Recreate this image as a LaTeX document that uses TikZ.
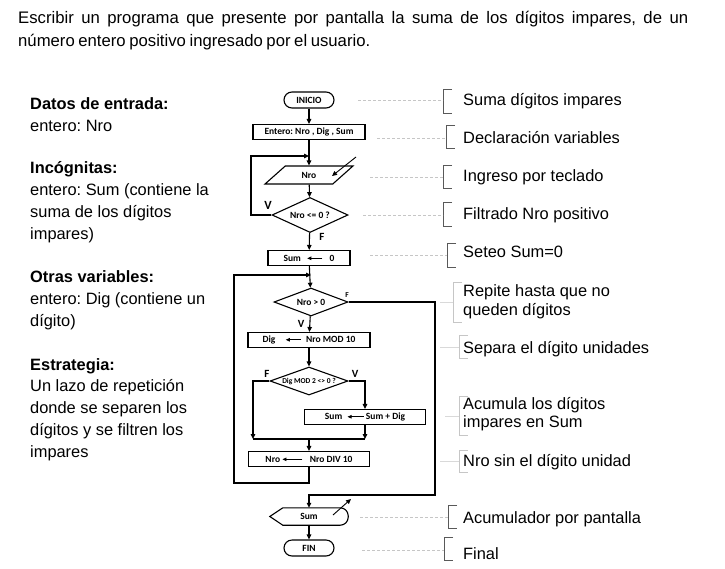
\documentclass[tikz,border=0pt]{standalone}
\usepackage{fontspec}
\setmainfont{Liberation Sans}
\newfontfamily\fluxfont{Carlito}
\usetikzlibrary{shapes.geometric,arrows.meta}
\frenchspacing

% flecha de asignacion dentro de las cajas
\newcommand{\asig}[1]{\tikz[baseline=-0.6ex]\draw[line width=0.7pt,-{Triangle[length=4pt,width=3.5pt]}] (#1,0) -- (0,0);}
% corchete de las notas
\newcommand{\corchete}[4][corch]{\draw[#1] (#2+9,#3) -- (#2,#3) -- (#2,#4) -- (#2+9,#4);}

\begin{document}
\begin{tikzpicture}[x=1pt,y=-1pt,
  flujo/.style={line width=1.1pt},
  flecha/.style={flujo,-{Triangle[length=5pt,width=4.5pt]}},
  caja/.style={draw,line width=1.1pt,inner sep=0pt,font=\fluxfont\bfseries\fontsize{9.5}{10}\selectfont},
  terminal/.style={caja,rounded corners=8pt,minimum width=50pt,minimum height=16pt},
  proceso/.style={caja,minimum height=15pt},
  entrada/.style={caja,trapezium,trapezium left angle=45,trapezium right angle=135,trapezium stretches=true,minimum width=88pt,minimum height=18pt},
  decision/.style={caja,diamond},
  etiq/.style={font=\fluxfont\bfseries\fontsize{11}{12}\selectfont,inner sep=0pt},
  nota/.style={anchor=base west,inner sep=0pt,align=left,font=\fontsize{16.4}{18.5}\selectfont},
  texto/.style={anchor=base west,inner sep=0pt,align=left,font=\fontsize{16.4}{21.7}\selectfont},
  guia/.style={gray!45,dash pattern=on 3pt off 2pt,line width=0.5pt},
  guia2/.style={gray!30,line width=0.5pt}
]
\useasboundingbox (0,0) rectangle (725,568);
\tikzset{corch/.style={gray!70!black,line width=0.9pt},
  corch2/.style={gray!45,line width=0.7pt}}

% enunciado
\node[anchor=base west,inner sep=0pt,text width=670pt,align=justify,
  font=\fontsize{16.7}{22.5}\selectfont] (enunciado) at (18,23.5)
  {\spaceskip=3.6pt plus 6pt minus 1pt\relax
   Escribir un programa que presente por pantalla la suma de los dígitos impares, de un\linebreak
   número entero positivo ingresado por el usuario.};

% datos del problema
\node[texto] (datos) at (30,131) {\textbf{Datos de entrada:}\\entero: Nro};
\node[texto] (incog) at (30,239) {\textbf{Incógnitas:}\\entero: Sum (contiene la\\suma de los dígitos\\impares)};
\node[texto] (otras) at (30,326) {\textbf{Otras variables:}\\entero: Dig (contiene un\\dígito)};
\node[texto] (estrat) at (30,457) {\textbf{Estrategia:}\\Un lazo de repetición\\donde se separen los\\dígitos y se filtren los\\impares};

% diagrama de flujo
\node[terminal] (inicio) at (309,100) {INICIO};
\node[proceso,minimum width=112pt] (decl) at (309,132) {Entero: Nro , Dig , Sum};
\node[entrada] (leer) at (309,175) {Nro};
\node[decision,minimum width=76pt,minimum height=35pt] (filtro) at (310,215) {\makebox[0pt]{Nro <= 0 ?}};
\node[proceso,minimum width=82pt] (cero) at (309,258) {Sum\hspace{6pt}\asig{15pt}\hspace{7pt}0};
\node[decision,minimum width=74pt,minimum height=28pt] (mientras) at (311,302) {\makebox[0pt]{Nro > 0}};
\node[proceso,minimum width=122pt] (resto) at (309,340) {Dig\hspace{10pt}\asig{15pt}\hspace{5pt}Nro MOD 10};
\node[decision,minimum width=78pt,minimum height=28pt] (impar) at (309,381)
  {\makebox[0pt]{\fontsize{7.5}{8}\selectfont Dig MOD 2 <> 0 ?}};
\node[proceso,minimum width=121pt] (acum) at (365,417) {Sum\hspace{5pt}\asig{16pt}\hspace{2pt}Sum + Dig};
\node[proceso,minimum width=121pt] (cociente) at (309,459) {Nro\hspace{2pt}\asig{20pt}\hspace{7pt}Nro DIV 10};
\node[minimum width=78pt,minimum height=17pt,inner sep=0pt,font=\fluxfont\bfseries\fontsize{9.5}{10}\selectfont] (mostrar) at (309,516.5) {Sum};
\node[terminal] (fin) at (309,548) {FIN};

% forma de salida por pantalla
\draw[flujo] (mostrar.west) -- ([xshift=13pt]mostrar.north west) [rounded corners=8pt] -- (mostrar.north east)
  -- (mostrar.south east) [sharp corners] -- ([xshift=13pt]mostrar.south west) -- cycle;
\draw[flecha,line width=0.9pt] (333,515) -- (351,499);
% flecha de teclado
\draw[flecha,line width=0.9pt] (356,157) -- (332,176);

% conexiones
\draw[flecha] (inicio) -- (decl);
\draw[flecha] (decl) -- (leer);
\draw[flecha] (leer) -- (filtro);
\draw[flecha] (filtro) -- (cero);
\node[etiq] (f1) at (322,237) {F};
\node[etiq,font=\fluxfont\bfseries\fontsize{12.5}{13}\selectfont] (v1) at (268,205) {V};
\coordinate (l1) at (251,215);
\coordinate (l2) at (251,156);
\draw[flecha] (filtro.west) -- (l1) -- (l2) -- (l2 -| decl);

\draw[flecha] (cero) -- (mientras);
\draw[flecha] (mientras) -- (resto);
\node[etiq] (v2) at (301,324) {V};
\node[etiq,font=\fluxfont\bfseries\fontsize{7.5}{8}\selectfont] (f2) at (347,295) {F};
\coordinate (r1) at (234,483);
\coordinate (r2) at (234,275);
\draw[flecha] (cociente.south) |- (r1) -- (r2) -- (r2 -| mientras);
\coordinate (s1) at (435,495);
\draw[flecha] (mientras.east) -| (s1) -- (s1 -| mostrar) -- (mostrar.north);

\draw[flecha] (resto) -- (impar);
\node[etiq] (f3) at (267,374) {F};
\node[etiq] (v3) at (355,374) {V};
\coordinate (m1) at (253,439);
\coordinate (m2) at (365,439);
\draw[flecha] (impar.west) -| (m1);
\draw[flecha] (impar.east) -| (acum.north);
\draw[flecha] (acum.south) -- (m2);
\draw[flujo] (m1) -- (m2);
\draw[flecha] (m1 -| cociente) -- (cociente.north);
\draw[flecha] (mostrar.south) -- (fin);

% notas
\node[nota] (n1) at (463,105) {Suma dígitos impares};
\node[nota] (n2) at (463,143) {Declaración variables};
\node[nota] (n3) at (463,181) {Ingreso por teclado};
\node[nota] (n4) at (463,219) {Filtrado Nro positivo};
\node[nota] (n5) at (463,257) {Seteo Sum=0};
\node[nota] (n6) at (463,315) {Repite hasta que no\\queden dígitos};
\node[nota] (n7) at (463,353) {Separa el dígito unidades};
\node[nota] (n8) at (463,427.5) {Acumula los dígitos\\impares en Sum};
\node[nota] (n9) at (463,466) {Nro sin el dígito unidad};
\node[nota] (n10) at (463,523) {Acumulador por pantalla};
\node[nota] (n11) at (463,559) {Final};

\corchete{443}{89}{113}
\corchete{446}{125}{148}
\corchete{443}{165}{188}
\corchete{443}{202}{226}
\corchete{447}{243}{267}
\corchete[corch2]{453}{282}{322}
\corchete[corch2]{459}{335}{358}
\corchete[corch2]{459}{396}{435}
\corchete[corch2]{459}{450}{472}
\corchete{448}{505}{528}
\corchete{444}{537}{560}

\draw[guia] (358,100) -- (443,100);
\draw[guia] (377,138) -- (446,138);
\draw[guia] (370,177) -- (443,177);
\draw[guia] (363,215) -- (443,215);
\draw[guia] (370,255) -- (447,255);
\draw[guia2] (440,302) -- (453,302);
\draw[guia2] (440,347) -- (459,347);
\draw[guia2] (445,416) -- (459,416);
\draw[guia2] (440,461) -- (459,461);
\draw[guia] (360,517) -- (448,517);
\draw[guia] (362,550) -- (444,550);
\end{tikzpicture}
\end{document}
